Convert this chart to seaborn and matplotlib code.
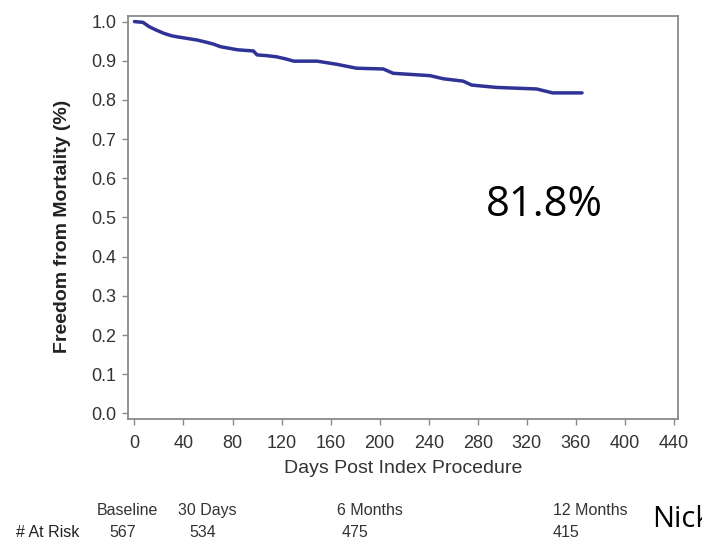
import numpy as np
import pandas as pd
import seaborn as sns
import matplotlib.pyplot as plt

# Kaplan-Meier curve
days = [0, 7, 12, 18, 24, 30, 35, 43, 51, 59, 65, 70, 77, 84, 97, 100, 108, 116,
        123, 130, 149, 157, 165, 173, 181, 203, 211, 226, 241, 252, 268, 275, 295,
        328, 341, 365]
survival = [1.0, 0.998, 0.987, 0.978, 0.970, 0.964, 0.961, 0.957, 0.953, 0.947,
            0.942, 0.936, 0.932, 0.928, 0.925, 0.915, 0.913, 0.910, 0.905, 0.899,
            0.899, 0.895, 0.891, 0.886, 0.881, 0.879, 0.868, 0.865, 0.862, 0.854,
            0.848, 0.838, 0.832, 0.828, 0.818, 0.818]

x_ticks = list(range(0, 441, 40))
y_ticks = [round(v * 0.1, 1) for v in range(11)]

# at-risk table
risk_labels = ["Baseline", "30 Days", "6 Months", "12 Months"]
risk_counts = ["567", "534", "475", "415"]
risk_label_px = [97, 178, 337, 553]
risk_count_px = [109, 189, 342, 553]

final_label = "81.8%"

df = pd.DataFrame({"day": days, "surv": survival})

sns.set_style("white")
plt.rcParams["font.family"] = ["Liberation Sans", "DejaVu Sans"]

W, H = 702, 548
fig = plt.figure(figsize=(W / 100, H / 100), dpi=100)
ax = fig.add_axes([128.3 / W, 1 - 419.3 / H, 550 / W, 403.6 / H])

sns.lineplot(data=df, x="day", y="surv", ax=ax, color="#2f3396", linewidth=2.5,
             estimator=None, sort=False)

ax.set_xlim(-5, 443.5)
ax.set_ylim(-0.015, 1.015)
ax.set_xticks(x_ticks)
ax.set_yticks(y_ticks)
ax.set_yticklabels([f"{v:.1f}" for v in y_ticks])

for sp in ax.spines.values():
    sp.set_visible(True)
    sp.set_color("#8a8a8a")
    sp.set_linewidth(1.3)

ax.tick_params(axis="both", direction="out", length=4.5, width=1, color="#8a8a8a",
               labelsize=13, labelcolor="#333333", bottom=True, left=True)
ax.tick_params(axis="x", pad=6.5)
ax.tick_params(axis="y", pad=4)

ax.set_xlabel("Days Post Index Procedure", fontsize=14, color="#333333")
ax.set_ylabel("Freedom from Mortality (%)", fontsize=14, fontweight="bold",
              color="#222222")
ax.xaxis.set_label_coords(0.5, -0.1)
ax.yaxis.set_label_coords(-0.104, 0.477)

ax.text(334, 0.504, final_label, ha="center", va="baseline", fontsize=30,
        family=["Open Sans", "DejaVu Sans"], color="black")

# number at risk table under the plot
for lab, px in zip(risk_labels, risk_label_px):
    fig.text(px / W, 1 - 515 / H, lab, ha="left", va="baseline", fontsize=11.5,
             color="#333333")
fig.text(16 / W, 1 - 536.7 / H, "# At Risk", ha="left", va="baseline", fontsize=11.5,
         color="#222222")
for cnt, px in zip(risk_counts, risk_count_px):
    fig.text(px / W, 1 - 536.7 / H, cnt, ha="left", va="baseline", fontsize=11.5,
             color="#333333")

# cut off at the right edge, as in the source slide
fig.text(651.7 / W, 1 - 526.7 / H, "Nick", ha="left", va="baseline", fontsize=21,
         family=["Open Sans", "DejaVu Sans"], color="black")

plt.savefig("out.png", dpi=100)
